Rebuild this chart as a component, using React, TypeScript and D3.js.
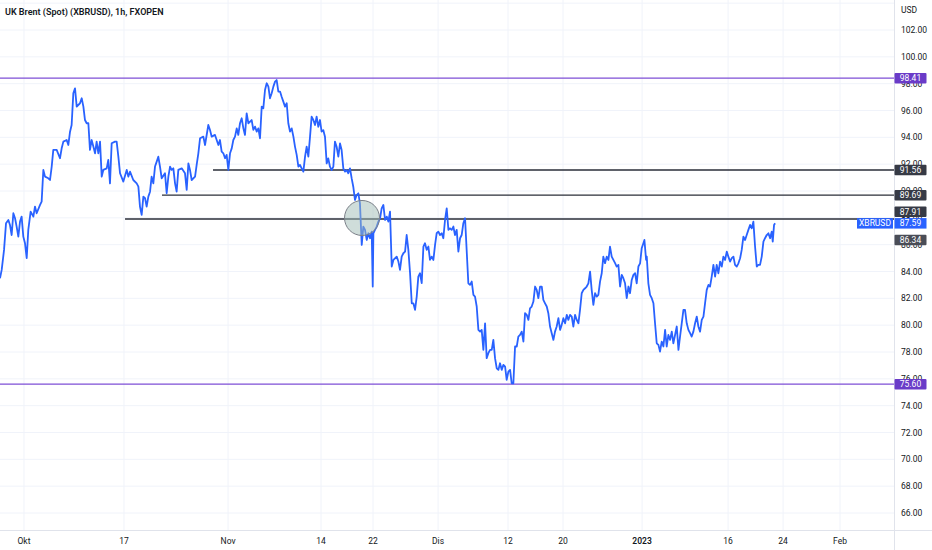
import React from 'react'
import * as d3 from 'd3'

const title = 'UK Brent (Spot) (XBRUSD), 1h, FXOPEN'
const currency = 'USD'
const symbol = 'XBRUSD'

// [session index, price]
const brent: [number, number][] = [
  [0, 83.5], [0.18, 84.12], [0.43, 85.61], [0.64, 87.59], [0.89, 87.84], [1.06, 87.47], [1.24, 86.72],
  [1.42, 88.34], [1.6, 87.97], [1.77, 87.35], [1.95, 86.6], [2.13, 87.72], [2.3, 88.09], [2.48, 86.6],
  [2.66, 86.1], [2.84, 84.99], [3.01, 87.1], [3.26, 88.46], [3.55, 88.09], [3.72, 88.84], [3.9, 88.34],
  [4.26, 88.96], [4.43, 89.21], [4.61, 91.57], [4.79, 91.07], [5.14, 90.95], [5.32, 90.82], [5.5, 91.82],
  [5.67, 93.06], [6.03, 93.06], [6.38, 92.44], [6.56, 93.18], [6.74, 93.68], [7.09, 93.8], [7.27, 93.43],
  [7.45, 94.42], [7.62, 94.92], [7.8, 97.28], [7.98, 97.65], [8.16, 96.29], [8.51, 96.54], [8.69, 96.91],
  [8.87, 96.29], [9.04, 95.29], [9.22, 95.05], [9.4, 95.05], [9.57, 93.06], [9.75, 93.8], [9.93, 93.31],
  [10.11, 92.81], [10.28, 93.68], [10.46, 92.81], [10.64, 93.68], [10.82, 91.07], [10.99, 91.57],
  [11.35, 91.69], [11.52, 92.31], [11.7, 90.57], [11.88, 93.56], [12.23, 93.68], [12.41, 93.68],
  [12.59, 92.56], [12.77, 91.32], [13.12, 90.7], [13.48, 91.57], [13.65, 91.07], [13.83, 91.44],
  [14.18, 90.82], [14.54, 90.57], [14.72, 90.33], [14.89, 88.84], [15.07, 88.22], [15.25, 89.58],
  [15.43, 89.46], [15.6, 88.84], [15.78, 89.58], [15.96, 89.95], [16.13, 91.07], [16.31, 90.57],
  [16.49, 91.82], [16.67, 92.19], [16.84, 92.56], [17.02, 91.82], [17.2, 90.95], [17.55, 91.32],
  [17.73, 89.83], [17.91, 91.07], [18.09, 91.82], [18.26, 91.57], [18.44, 91.69], [18.62, 90.57],
  [18.79, 89.95], [18.97, 91.57], [19.33, 91.69], [19.68, 91.32], [19.86, 90.08], [20.04, 92.06],
  [20.21, 91.57], [20.39, 90.82], [20.75, 91.07], [20.92, 91.94], [21.1, 92.81], [21.28, 93.93],
  [21.63, 94.05], [21.81, 93.43], [22.16, 94.92], [22.34, 94.55], [22.52, 94.05], [22.87, 94.18],
  [23.23, 93.43], [23.4, 93.8], [23.58, 92.93], [23.76, 92.81], [23.94, 92.44], [24.11, 92.69],
  [24.29, 91.57], [24.47, 92.81], [24.65, 93.18], [24.82, 93.8], [25.0, 94.05], [25.18, 94.67],
  [25.35, 94.18], [25.53, 95.05], [25.71, 95.42], [25.89, 94.67], [26.06, 94.18], [26.24, 95.79],
  [26.42, 95.05], [26.77, 95.29], [26.95, 94.55], [27.13, 94.8], [27.31, 94.42], [27.48, 94.67],
  [27.66, 93.93], [27.84, 96.29], [28.01, 96.16], [28.19, 97.53], [28.37, 98.03], [28.55, 97.78],
  [28.72, 96.91], [28.9, 97.28], [29.08, 97.78], [29.26, 98.15], [29.43, 98.27], [29.61, 97.41],
  [29.79, 97.41], [29.96, 97.03], [30.14, 96.66], [30.32, 96.29], [30.5, 96.54], [30.67, 95.05],
  [30.85, 94.42], [31.03, 94.67], [31.21, 94.05], [31.38, 93.31], [31.56, 92.69], [31.74, 91.82],
  [31.91, 91.94], [32.09, 91.69], [32.27, 91.44], [32.45, 92.56], [32.62, 93.31], [32.8, 92.56],
  [32.98, 94.05], [33.15, 95.54], [33.33, 95.29], [33.51, 94.92], [33.68, 95.54], [33.86, 94.79],
  [34.04, 95.29], [34.21, 94.42], [34.39, 94.54], [34.57, 94.05], [34.75, 92.06], [34.92, 92.43],
  [35.1, 91.81], [35.28, 91.56], [35.46, 91.81], [35.63, 93.68], [35.81, 93.3], [35.99, 92.56],
  [36.17, 93.55], [36.34, 93.05], [36.52, 91.69], [36.7, 91.44], [36.87, 91.56], [37.05, 91.32],
  [37.23, 91.69], [37.41, 90.94], [37.58, 90.32], [37.76, 89.33], [37.94, 89.7], [38.12, 89.83],
  [38.29, 89.08], [38.48, 85.98], [38.65, 87.35], [38.83, 87.1], [39.01, 86.35], [39.19, 86.85],
  [39.36, 86.48], [39.54, 86.97], [39.65, 82.88], [39.72, 86.85], [39.89, 87.1], [40.07, 87.35],
  [40.25, 87.72], [40.43, 87.97], [40.6, 88.71], [40.78, 88.96], [40.96, 87.84], [41.14, 88.09],
  [41.31, 87.72], [41.49, 88.46], [41.67, 84.37], [41.85, 84.86], [42.2, 85.11], [42.38, 84.74],
  [42.55, 84.12], [42.73, 85.11], [42.91, 85.36], [43.09, 85.48], [43.26, 86.72], [43.44, 85.61],
  [43.62, 83.87], [43.8, 81.63], [43.97, 81.63], [44.15, 81.14], [44.33, 82.13], [44.5, 83.62],
  [44.68, 83.87], [44.86, 83.13], [45.04, 85.86], [45.21, 86.11], [45.39, 85.61], [45.57, 85.86],
  [45.74, 84.86], [45.92, 85.11], [46.1, 84.86], [46.28, 85.98], [46.45, 86.85], [46.63, 86.97],
  [46.81, 86.72], [46.99, 86.85], [47.16, 86.48], [47.34, 87.84], [47.52, 88.71], [47.7, 87.1],
  [47.87, 87.22], [48.05, 87.1], [48.23, 87.35], [48.4, 86.72], [48.58, 87.1], [48.76, 85.48],
  [48.94, 86.48], [49.11, 86.72], [49.29, 87.6], [49.47, 87.97], [49.82, 83.12], [50.0, 83.0],
  [50.18, 83.25], [50.36, 82.26], [50.53, 82.13], [50.71, 81.39], [50.89, 79.65], [51.07, 79.52],
  [51.24, 79.65], [51.42, 78.16], [51.6, 80.14], [51.77, 77.54], [51.95, 77.91], [52.13, 78.16],
  [52.31, 78.16], [52.48, 78.9], [52.66, 77.54], [52.84, 76.79], [53.02, 76.67], [53.19, 77.16],
  [53.37, 76.67], [53.55, 77.04], [53.73, 76.91], [53.9, 75.92], [54.08, 76.54], [54.26, 76.67],
  [54.43, 75.67], [54.61, 75.67], [54.79, 78.41], [54.97, 78.41], [55.14, 79.15], [55.32, 79.27],
  [55.5, 79.52], [55.68, 78.78], [55.85, 80.89], [56.03, 80.77], [56.21, 80.39], [56.38, 81.26],
  [56.56, 81.39], [56.74, 81.76], [56.92, 82.88], [57.09, 82.63], [57.27, 82.01], [57.45, 82.88],
  [57.63, 82.88], [57.8, 81.88], [57.98, 81.63], [58.16, 81.39], [58.33, 80.89], [58.51, 79.9],
  [58.69, 79.4], [58.87, 78.9], [59.04, 79.52], [59.22, 79.9], [59.4, 80.52], [59.58, 79.65],
  [59.75, 80.02], [59.93, 80.52], [60.11, 80.14], [60.29, 80.77], [60.46, 80.39], [60.64, 80.77],
  [60.82, 80.64], [60.99, 79.9], [61.17, 80.77], [61.35, 80.39], [61.53, 80.14], [61.7, 81.14],
  [61.88, 82.38], [62.06, 82.63], [62.24, 82.75], [62.41, 82.88], [62.59, 83.12], [62.77, 83.99],
  [62.94, 82.63], [63.12, 81.51], [63.3, 82.38], [63.48, 82.13], [63.65, 82.26], [63.83, 83.25],
  [64.01, 83.87], [64.18, 85.11], [64.36, 84.62], [64.54, 85.11], [64.72, 84.86], [64.89, 85.86],
  [65.07, 85.11], [65.25, 84.86], [65.43, 84.62], [65.6, 84.37], [65.78, 84.49], [65.96, 82.88],
  [66.14, 83.75], [66.31, 83.5], [66.49, 83.12], [66.67, 82.01], [66.85, 82.88], [67.02, 82.38],
  [67.2, 83.37], [67.38, 83.75], [67.56, 83.87], [67.73, 83.12], [67.91, 84.37], [68.09, 84.61],
  [68.26, 85.73], [68.44, 86.11], [68.55, 86.35], [68.73, 84.86], [68.8, 85.11], [68.97, 83.12],
  [69.15, 82.26], [69.33, 82.01], [69.51, 81.63], [69.68, 80.14], [69.86, 78.65], [70.04, 78.53],
  [70.21, 78.03], [70.39, 78.78], [70.57, 78.41], [70.75, 79.65], [70.92, 78.41], [71.1, 79.27],
  [71.28, 78.9], [71.46, 79.52], [71.63, 78.65], [71.81, 79.27], [71.99, 79.9], [72.17, 78.16],
  [72.34, 79.15], [72.52, 80.14], [72.7, 81.14], [72.87, 81.14], [73.05, 80.14], [73.23, 79.65],
  [73.41, 79.4], [73.58, 79.15], [73.76, 79.52], [73.94, 80.14], [74.12, 80.64], [74.29, 79.9],
  [74.47, 79.52], [74.65, 80.39], [74.83, 80.64], [75.0, 81.63], [75.18, 82.63], [75.36, 83.0],
  [75.53, 82.88], [75.71, 83.62], [75.89, 84.49], [76.07, 83.62], [76.24, 84.49], [76.42, 83.87],
  [76.6, 84.74], [76.78, 84.37], [76.95, 85.11], [77.13, 84.86], [77.31, 85.48], [77.48, 85.11],
  [77.66, 84.74], [77.84, 84.99], [78.02, 85.11], [78.19, 84.49], [78.37, 84.37], [78.55, 84.61],
  [78.73, 84.99], [78.9, 85.61], [79.08, 86.6], [79.26, 86.35], [79.43, 86.72], [79.61, 87.1],
  [79.79, 87.47], [79.97, 87.22], [80.14, 87.72], [80.32, 85.86], [80.5, 84.37], [80.67, 84.49],
  [80.85, 84.49], [81.03, 85.11], [81.21, 86.23], [81.38, 86.48], [81.56, 86.72], [81.74, 86.85],
  [81.92, 86.48], [82.09, 86.97], [82.2, 86.23], [82.34, 87.47], [82.45, 87.59],
]

const priceTicks = [66, 68, 70, 72, 74, 76, 78, 80, 82, 84, 86, 88, 90, 92, 94, 96, 98, 100, 102]
const priceGrid = [...priceTicks, 104]

const timeLabels = ['Okt', '17', 'Nov', '14', '22', 'Dis', '12', '20', '2023', '16', '24', 'Feb']
const timeSessions = [2.55, 13.19, 24.26, 34.15, 39.68, 46.6, 54.04, 59.89, 68.3, 77.45, 83.3, 89.36]

// full-width levels (purple) and rays (black)
const levels = [98.41, 75.6]
const rayPrices = [91.56, 89.69, 87.91]
const rayStarts = [22.66, 17.23, 13.3]
const extraLabel = 86.34
const lastPrice = 87.59
const marker: [number, number] = [38.51, 87.99]

const W = 932
const H = 550
const plotW = 894
const plotH = 530

const App: React.FC = () => {
  const x = d3.scaleLinear().domain([0, 95.1]).range([0, plotW])
  const y = d3.scaleLinear().domain([66, 102]).range([513, 30])

  const line = d3.line<[number, number]>()
    .x(d => x(d[0]))
    .y(d => y(d[1]))

  const font = 'Roboto, "Liberation Sans", sans-serif'
  const textColor = '#131722'
  const purple = '#7e4fd6'
  const boxH = 10.5

  // axis labels, pushed off the current price label when they overlap
  const yLast = y(lastPrice)
  const place = (p: number) => {
    const v = y(p)
    if (Math.abs(v - yLast) < boxH + 1) return v < yLast ? yLast - boxH - 1 : yLast + boxH + 1
    return v
  }
  const tags = [
    ...levels.map(p => ({ p, fill: '#6a3bc8', cy: place(p) })),
    ...rayPrices.map(p => ({ p, fill: '#363a45', cy: place(p) })),
    { p: extraLabel, fill: '#4a4d57', cy: place(extraLabel) },
  ]

  return (
    <svg width={W} height={H} style={{ position: 'absolute', left: 0, top: 0, background: '#fff' }}
      fontFamily={font}>
      <defs>
        <clipPath id="plot"><rect x={0} y={0} width={plotW} height={plotH} /></clipPath>
      </defs>
      <rect width={W} height={H} fill="#fff" />

      {/* grid */}
      {priceGrid.map(p => (
        <line key={'h' + p} x1={0} x2={plotW} y1={y(p)} y2={y(p)} stroke="#f0f3fa" />
      ))}
      {timeSessions.map((s, i) => (
        <line key={'v' + i} x1={x(s)} x2={x(s)} y1={0} y2={plotH} stroke="#f0f3fa" />
      ))}

      <g clipPath="url(#plot)">
        {levels.map(p => (
          <line key={'l' + p} x1={0} x2={plotW} y1={y(p)} y2={y(p)} stroke={purple} strokeWidth={1.2} />
        ))}
        {rayPrices.map((p, i) => (
          <line key={'r' + p} x1={x(rayStarts[i])} x2={plotW} y1={y(p)} y2={y(p)}
            stroke="#2a2e39" strokeWidth={1.4} />
        ))}
        <path d={line(brent) ?? ''} fill="none" stroke="#2962ff" strokeWidth={1.8}
          strokeLinejoin="round" />
        <circle cx={x(marker[0])} cy={y(marker[1])} r={17.5} fill="rgba(160,188,182,0.5)"
          stroke="#7b7f88" strokeWidth={1} />
      </g>

      {/* axes borders */}
      <line x1={plotW + 0.5} x2={plotW + 0.5} y1={0} y2={H} stroke="#e0e3eb" />
      <line x1={0} x2={W} y1={plotH + 0.5} y2={plotH + 0.5} stroke="#e0e3eb" />

      {/* right axis */}
      <text x={901} y={13} fontSize={8.5} fill={textColor}>{currency}</text>
      {priceTicks.map(p => (
        <text key={'t' + p} x={901} y={y(p) + 3} fontSize={8.5} fill={textColor}>{p.toFixed(2)}</text>
      ))}

      {/* bottom axis */}
      {timeLabels.map((t, i) => (
        <text key={'x' + i} x={x(timeSessions[i])} y={544} fontSize={8.5} fill={textColor}
          textAnchor="middle" fontWeight={t === '2023' ? 600 : 400}>{t}</text>
      ))}

      {/* price tags */}
      {tags.map(t => (
        <g key={'g' + t.p}>
          <rect x={plotW + 0.5} y={t.cy - boxH / 2} width={32} height={boxH} fill={t.fill} rx={1} />
          <text x={plotW + 16.5} y={t.cy + 3} fontSize={8.5} fill="#fff" textAnchor="middle">
            {t.p.toFixed(2)}
          </text>
        </g>
      ))}
      <rect x={857} y={yLast - boxH / 2} width={36} height={boxH} fill="#2962ff" />
      <text x={875} y={yLast + 3} fontSize={8.5} fill="#fff" textAnchor="middle">{symbol}</text>
      <rect x={plotW + 0.5} y={yLast - boxH / 2} width={32} height={boxH} fill="#2962ff" />
      <text x={plotW + 16.5} y={yLast + 3} fontSize={8.5} fill="#fff" textAnchor="middle">
        {lastPrice.toFixed(2)}
      </text>

      <text x={5} y={15} fontSize={9} fontWeight={600} fill={textColor}>{title}</text>
    </svg>
  )
}

export default App
